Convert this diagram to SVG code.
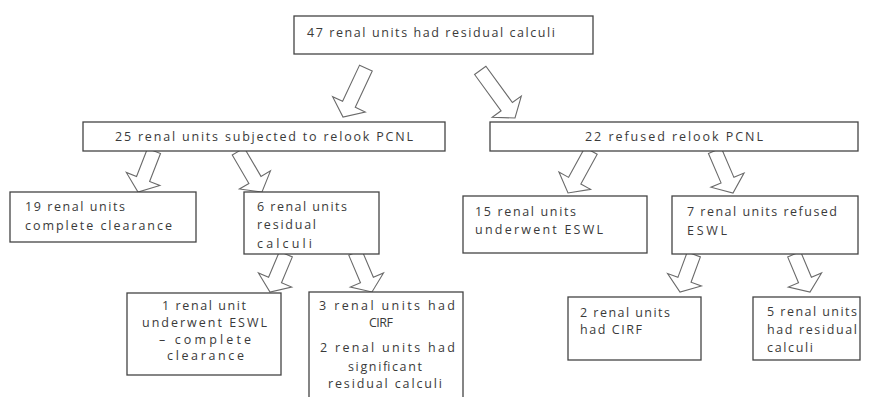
<svg xmlns="http://www.w3.org/2000/svg" width="874" height="397" viewBox="0 0 874 397">
<defs>
<style>
.box{fill:#fff;stroke:#444;stroke-width:1.3}
.t{font-family:"Open Sans","DejaVu Sans",sans-serif;font-size:12.5px;fill:#3a3a3a}
.arr{fill:#fff;stroke:#6a6a6a;stroke-width:1.1;stroke-linejoin:miter}
</style>
</defs>
<rect width="874" height="397" fill="#fff"/>
<g id="connectors">
<polygon class="arr" transform="translate(343,117) rotate(25.1)" points="-7,-54 7,-54 7,-14 18,-14 0,0 -18,-14 -7,-14"/>
<polygon class="arr" transform="translate(515,118) rotate(-36.1)" points="-7,-59 7,-59 7,-14 18,-14 0,0 -18,-14 -7,-14"/>
<polygon class="arr" transform="translate(138,192) rotate(21.3)" points="-7,-44 7,-44 7,-14 18,-14 0,0 -18,-14 -7,-14"/>
<polygon class="arr" transform="translate(262,192) rotate(-30.3)" points="-7,-47 7,-47 7,-14 18,-14 0,0 -18,-14 -7,-14"/>
<polygon class="arr" transform="translate(270,292) rotate(22.8)" points="-7,-41 7,-41 7,-13 18,-13 0,0 -18,-13 -7,-13"/>
<polygon class="arr" transform="translate(372,292) rotate(-23)" points="-7,-43 7,-43 7,-13 18,-13 0,0 -18,-13 -7,-13"/>
<polygon class="arr" transform="translate(568,193) rotate(28.7)" points="-7,-48 7,-48 7,-14 18,-14 0,0 -18,-14 -7,-14"/>
<polygon class="arr" transform="translate(733,193) rotate(-23.2)" points="-7,-46 7,-46 7,-14 18,-14 0,0 -18,-14 -7,-14"/>
<polygon class="arr" transform="translate(680,292) rotate(20.2)" points="-7,-40 7,-40 7,-13 18,-13 0,0 -18,-13 -7,-13"/>
<polygon class="arr" transform="translate(810,292) rotate(-22.8)" points="-7,-41 7,-41 7,-13 18,-13 0,0 -18,-13 -7,-13"/>
</g>
<g id="n47">
<rect class="box" x="294" y="16" width="299" height="38"/>
<text class="t" x="307" y="37" textLength="248" lengthAdjust="spacing">47 renal units had residual calculi</text>
</g>
<g id="n25">
<rect class="box" x="83" y="122" width="362" height="29"/>
<text class="t" x="115" y="141" textLength="298" lengthAdjust="spacing">25 renal units subjected to relook PCNL</text>
</g>
<g id="n22">
<rect class="box" x="490" y="122" width="368" height="29"/>
<text class="t" x="585" y="141" textLength="178" lengthAdjust="spacing">22 refused relook PCNL</text>
</g>
<g id="n19">
<rect class="box" x="10" y="192" width="186" height="50"/>
<text class="t" x="25" y="211" textLength="100" lengthAdjust="spacing">19 renal units</text>
<text class="t" x="25" y="230" textLength="147" lengthAdjust="spacing">complete clearance</text>
</g>
<g id="n6">
<rect class="box" x="244" y="192" width="135" height="62"/>
<text class="t" x="257" y="211" textLength="90" lengthAdjust="spacing">6 renal units</text>
<text class="t" x="257" y="229" textLength="59" lengthAdjust="spacing">residual</text>
<text class="t" x="257" y="248" textLength="55" lengthAdjust="spacing">calculi</text>
</g>
<g id="n1">
<rect class="box" x="127" y="293" width="154" height="82"/>
<text class="t" x="162" y="310" textLength="84" lengthAdjust="spacing">1 renal unit</text>
<text class="t" x="142" y="327" textLength="125" lengthAdjust="spacing">underwent ESWL</text>
<text class="t" x="159" y="344" textLength="92" lengthAdjust="spacing">– complete</text>
<text class="t" x="167" y="360" textLength="77" lengthAdjust="spacing">clearance</text>
</g>
<g id="n3">
<rect class="box" x="309" y="292" width="154" height="120"/>
<text class="t" x="319" y="310" textLength="136" lengthAdjust="spacing">3 renal units had</text>
<text class="t" x="369" y="327" textLength="24" lengthAdjust="spacing">CIRF</text>
<text class="t" x="320" y="352" textLength="135" lengthAdjust="spacing">2 renal units had</text>
<text class="t" x="348" y="371" textLength="74" lengthAdjust="spacing">significant</text>
<text class="t" x="328" y="388" textLength="114" lengthAdjust="spacing">residual calculi</text>
</g>
<g id="n15">
<rect class="box" x="463" y="196" width="184" height="57"/>
<text class="t" x="475" y="216" textLength="101" lengthAdjust="spacing">15 renal units</text>
<text class="t" x="475" y="234" textLength="128" lengthAdjust="spacing">underwent ESWL</text>
</g>
<g id="n7">
<rect class="box" x="672" y="196" width="186" height="58"/>
<text class="t" x="687" y="216" textLength="150" lengthAdjust="spacing">7 renal units refused</text>
<text class="t" x="687" y="235" textLength="40" lengthAdjust="spacing">ESWL</text>
</g>
<g id="n2">
<rect class="box" x="568" y="297" width="133" height="63"/>
<text class="t" x="580" y="317" textLength="90" lengthAdjust="spacing">2 renal units</text>
<text class="t" x="580" y="334" textLength="62" lengthAdjust="spacing">had CIRF</text>
</g>
<g id="n5">
<rect class="box" x="753" y="297" width="107" height="63"/>
<text class="t" x="767" y="316" textLength="90" lengthAdjust="spacing">5 renal units</text>
<text class="t" x="767" y="334" textLength="90" lengthAdjust="spacing">had residual</text>
<text class="t" x="767" y="352" textLength="46" lengthAdjust="spacing">calculi</text>
</g>
</svg>
